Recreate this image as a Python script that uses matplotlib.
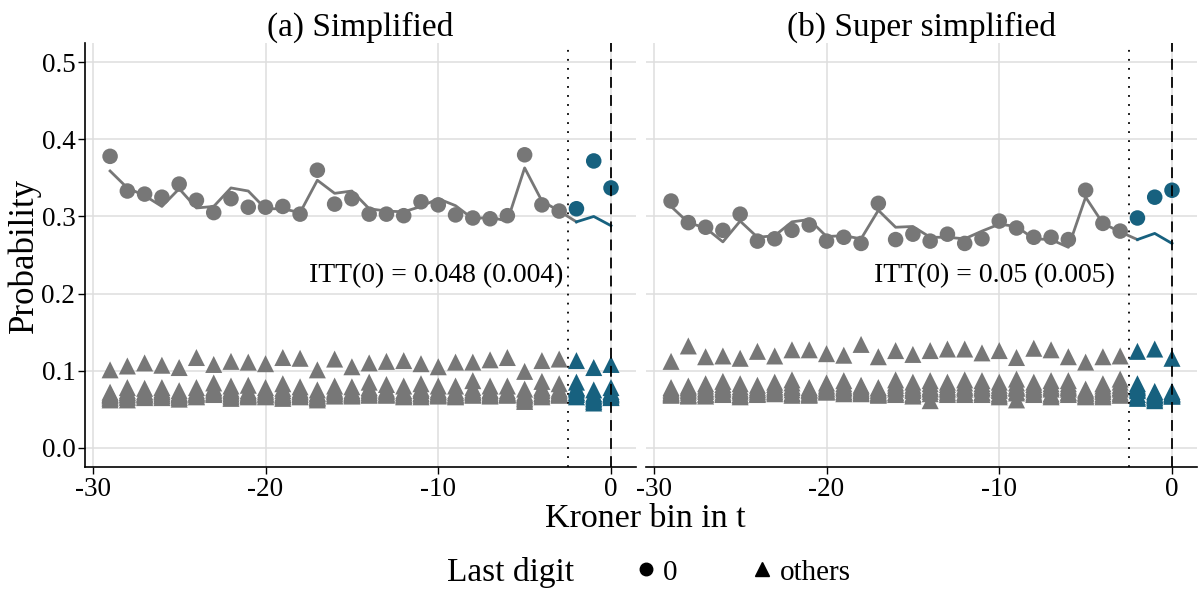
import numpy as np
import matplotlib
matplotlib.use("Agg")
import matplotlib.pyplot as plt
from matplotlib.lines import Line2D

plt.rcParams['font.family'] = ['Liberation Serif', 'DejaVu Serif']
plt.rcParams['axes.unicode_minus'] = False

# kroner bins, -29 .. 0
bins = list(range(-29, 1))
treat_from = -2  # bins from here on are coloured

titles = ["(a) Simplified", "(b) Super simplified"]
itt_labels = ["ITT(0) = 0.048 (0.004)", "ITT(0) = 0.05 (0.005)"]

# last digit 0: observed probability
zero_a = [0.378, 0.333, 0.329, 0.325, 0.342, 0.321, 0.305, 0.323, 0.312, 0.312,
          0.313, 0.303, 0.360, 0.316, 0.323, 0.303, 0.303, 0.301, 0.319, 0.315,
          0.302, 0.298, 0.297, 0.301, 0.380, 0.315, 0.307, 0.310, 0.372, 0.337]
zero_b = [0.320, 0.292, 0.286, 0.282, 0.303, 0.268, 0.271, 0.282, 0.289, 0.268,
          0.273, 0.265, 0.317, 0.270, 0.277, 0.268, 0.277, 0.265, 0.271, 0.294,
          0.285, 0.273, 0.273, 0.270, 0.334, 0.291, 0.281, 0.298, 0.325, 0.334]

# last digit 0: counterfactual (line)
fit_a = [0.359, 0.337, 0.327, 0.313, 0.336, 0.311, 0.313, 0.337, 0.333, 0.310,
         0.310, 0.305, 0.347, 0.330, 0.333, 0.310, 0.307, 0.306, 0.313, 0.323,
         0.314, 0.297, 0.299, 0.294, 0.363, 0.320, 0.307, 0.293, 0.300, 0.288]
fit_b = [0.313, 0.292, 0.285, 0.267, 0.294, 0.273, 0.275, 0.293, 0.296, 0.274,
         0.275, 0.271, 0.308, 0.286, 0.287, 0.273, 0.273, 0.271, 0.281, 0.290,
         0.287, 0.271, 0.270, 0.260, 0.325, 0.291, 0.280, 0.270, 0.278, 0.265]

# other last digits, panel (a)
a_d1 = [0.072, 0.078, 0.077, 0.078, 0.074, 0.078, 0.084, 0.080, 0.081, 0.078,
        0.083, 0.079, 0.075, 0.080, 0.079, 0.085, 0.082, 0.080, 0.083, 0.080,
        0.080, 0.087, 0.080, 0.080, 0.076, 0.086, 0.083, 0.085, 0.075, 0.078]
a_d2 = [0.068, 0.071, 0.070, 0.072, 0.069, 0.071, 0.074, 0.072, 0.070, 0.073,
        0.071, 0.072, 0.068, 0.073, 0.071, 0.074, 0.073, 0.071, 0.074, 0.072,
        0.071, 0.073, 0.072, 0.071, 0.068, 0.074, 0.072, 0.075, 0.066, 0.070]
a_d3 = [0.065, 0.067, 0.068, 0.068, 0.066, 0.069, 0.072, 0.068, 0.068, 0.069,
        0.068, 0.069, 0.065, 0.070, 0.069, 0.071, 0.070, 0.068, 0.070, 0.069,
        0.068, 0.071, 0.069, 0.070, 0.064, 0.070, 0.070, 0.071, 0.062, 0.068]
a_d4 = [0.070, 0.074, 0.073, 0.075, 0.071, 0.074, 0.078, 0.076, 0.074, 0.075,
        0.077, 0.075, 0.071, 0.076, 0.074, 0.078, 0.076, 0.074, 0.077, 0.075,
        0.074, 0.078, 0.075, 0.074, 0.071, 0.078, 0.076, 0.078, 0.070, 0.073]
a_d5 = [0.101, 0.106, 0.110, 0.107, 0.104, 0.117, 0.108, 0.112, 0.111, 0.109,
        0.117, 0.116, 0.101, 0.115, 0.105, 0.110, 0.112, 0.113, 0.109, 0.105,
        0.111, 0.111, 0.114, 0.117, 0.099, 0.113, 0.115, 0.113, 0.104, 0.108]
a_d6 = [0.067, 0.069, 0.069, 0.070, 0.068, 0.070, 0.071, 0.070, 0.069, 0.070,
        0.069, 0.070, 0.066, 0.071, 0.070, 0.072, 0.071, 0.069, 0.071, 0.070,
        0.069, 0.072, 0.070, 0.069, 0.066, 0.071, 0.071, 0.072, 0.064, 0.069]
a_d7 = [0.064, 0.065, 0.066, 0.067, 0.065, 0.067, 0.070, 0.066, 0.067, 0.067,
        0.066, 0.067, 0.064, 0.068, 0.068, 0.069, 0.069, 0.067, 0.068, 0.068,
        0.067, 0.069, 0.068, 0.069, 0.062, 0.068, 0.069, 0.069, 0.060, 0.066]
a_d8 = [0.069, 0.072, 0.071, 0.073, 0.070, 0.072, 0.076, 0.074, 0.072, 0.071,
        0.074, 0.073, 0.070, 0.074, 0.072, 0.076, 0.074, 0.072, 0.075, 0.073,
        0.072, 0.075, 0.074, 0.072, 0.069, 0.076, 0.074, 0.077, 0.068, 0.071]
a_d9 = [0.062, 0.062, 0.065, 0.065, 0.063, 0.066, 0.069, 0.064, 0.066, 0.066,
        0.064, 0.066, 0.062, 0.067, 0.067, 0.068, 0.068, 0.066, 0.066, 0.067,
        0.066, 0.068, 0.067, 0.068, 0.060, 0.066, 0.068, 0.066, 0.058, 0.065]

# other last digits, panel (b)
b_d1 = [0.078, 0.080, 0.083, 0.086, 0.083, 0.081, 0.085, 0.088, 0.078, 0.084,
        0.087, 0.081, 0.078, 0.088, 0.085, 0.087, 0.085, 0.088, 0.087, 0.085,
        0.089, 0.085, 0.087, 0.087, 0.076, 0.083, 0.089, 0.083, 0.073, 0.073]
b_d2 = [0.074, 0.076, 0.077, 0.079, 0.076, 0.076, 0.079, 0.080, 0.075, 0.079,
        0.080, 0.077, 0.074, 0.081, 0.078, 0.079, 0.079, 0.080, 0.080, 0.078,
        0.080, 0.079, 0.080, 0.080, 0.072, 0.077, 0.081, 0.078, 0.069, 0.070]
b_d3 = [0.071, 0.072, 0.073, 0.075, 0.072, 0.073, 0.075, 0.075, 0.072, 0.076,
        0.076, 0.074, 0.071, 0.076, 0.074, 0.076, 0.075, 0.076, 0.076, 0.074,
        0.077, 0.075, 0.076, 0.076, 0.070, 0.073, 0.076, 0.074, 0.067, 0.069]
b_d4 = [0.070, 0.069, 0.070, 0.072, 0.069, 0.071, 0.073, 0.071, 0.070, 0.074,
        0.073, 0.072, 0.070, 0.072, 0.070, 0.073, 0.072, 0.072, 0.072, 0.070,
        0.073, 0.072, 0.070, 0.072, 0.068, 0.070, 0.072, 0.069, 0.065, 0.068]
b_d5 = [0.112, 0.132, 0.118, 0.119, 0.116, 0.125, 0.119, 0.127, 0.127, 0.122,
        0.120, 0.134, 0.118, 0.126, 0.121, 0.126, 0.128, 0.128, 0.123, 0.126,
        0.117, 0.129, 0.127, 0.118, 0.111, 0.118, 0.119, 0.125, 0.128, 0.116]
b_d6 = [0.076, 0.078, 0.080, 0.082, 0.079, 0.078, 0.082, 0.084, 0.076, 0.081,
        0.083, 0.079, 0.076, 0.084, 0.081, 0.083, 0.082, 0.084, 0.083, 0.081,
        0.084, 0.082, 0.083, 0.083, 0.074, 0.080, 0.085, 0.080, 0.071, 0.071]
b_d7 = [0.072, 0.074, 0.075, 0.077, 0.074, 0.075, 0.077, 0.078, 0.074, 0.077,
        0.078, 0.075, 0.072, 0.078, 0.076, 0.077, 0.077, 0.078, 0.078, 0.076,
        0.078, 0.077, 0.078, 0.078, 0.071, 0.075, 0.078, 0.076, 0.068, 0.070]
b_d8 = [0.069, 0.068, 0.069, 0.070, 0.068, 0.070, 0.072, 0.070, 0.069, 0.073,
        0.072, 0.071, 0.069, 0.071, 0.069, 0.070, 0.071, 0.071, 0.071, 0.068,
        0.071, 0.070, 0.068, 0.071, 0.067, 0.068, 0.070, 0.066, 0.063, 0.067]
b_d9 = [0.068, 0.067, 0.067, 0.069, 0.066, 0.069, 0.070, 0.068, 0.068, 0.072,
        0.070, 0.070, 0.068, 0.069, 0.067, 0.061, 0.069, 0.069, 0.069, 0.066,
        0.062, 0.069, 0.066, 0.069, 0.066, 0.066, 0.068, 0.064, 0.061, 0.067]

GRAY = '#777777'
BLUE = '#17617f'
GRID = '#dedede'

panels = [
    (zero_a, fit_a, [a_d1, a_d2, a_d3, a_d4, a_d5, a_d6, a_d7, a_d8, a_d9]),
    (zero_b, fit_b, [b_d1, b_d2, b_d3, b_d4, b_d5, b_d6, b_d7, b_d8, b_d9]),
]

fig = plt.figure(figsize=(12.01, 5.90), dpi=100)
ax_a = fig.add_axes([0.0708, 0.2085, 0.4588, 0.7186])
ax_b = fig.add_axes([0.5379, 0.2085, 0.4588, 0.7186])

x = np.array(bins)
post = x >= treat_from
pre_line = x <= treat_from

for i, (ax, (zero, fit, others)) in enumerate(zip([ax_a, ax_b], panels)):
    zero = np.array(zero)
    fit = np.array(fit)
    cols = np.where(post, BLUE, GRAY)

    ax.plot(x[pre_line], fit[pre_line], color=GRAY, lw=2.0, zorder=2)
    ax.plot(x[post], fit[post], color=BLUE, lw=2.0, zorder=2)

    for d in others:
        ax.scatter(x, d, marker='^', s=150, c=cols, linewidths=0, zorder=3)
    ax.scatter(x, zero, marker='o', s=125, c=cols, linewidths=0, zorder=4)

    ax.axvline(-2.5, color='black', lw=1.3, ls=(0, (1, 4)), zorder=5)
    ax.axvline(0, color='black', lw=1.3, ls=(0, (6, 4)), zorder=5)

    ax.text(-2.75 if i == 0 else -3.3, 0.223, itt_labels[i], ha='right', va='center',
            fontsize=20)

    ax.set_xlim(-30.45, 1.45)
    ax.set_ylim(-0.025, 0.525)
    ax.set_xticks([-30, -20, -10, 0])
    ax.set_xticklabels(['-30', '-20', '-10', '0'])
    ax.set_yticks([0.0, 0.1, 0.2, 0.3, 0.4, 0.5])
    ax.grid(True, color=GRID, lw=1.1, zorder=0)
    ax.set_axisbelow(True)
    for s in ['top', 'right']:
        ax.spines[s].set_visible(False)
    ax.spines['bottom'].set_linewidth(1.2)
    ax.spines['left'].set_linewidth(1.2)
    ax.tick_params(labelsize=19.5, length=5, width=1, pad=2)
    ax.set_title(titles[i], fontsize=24, pad=4)

ax_a.set_yticklabels(['0.0', '0.1', '0.2', '0.3', '0.4', '0.5'])
ax_a.set_ylabel('Probability', fontsize=25, labelpad=0)
ax_b.spines['left'].set_visible(False)
ax_b.tick_params(axis='y', left=False, labelleft=False)

fig.text(0.537, 0.121, 'Kroner bin in t', ha='center', va='center', fontsize=24.5)

# legend
fig.text(0.372, 0.030, 'Last digit', ha='left', va='center', fontsize=24)
handles = [
    Line2D([], [], marker='o', color='black', ls='', markersize=9),
    Line2D([], [], marker='^', color='black', ls='', markersize=10),
]
fig.legend(handles, ['0', 'others'], loc='center', bbox_to_anchor=(0.617, 0.030),
           ncol=2, frameon=False, fontsize=21, handletextpad=0.1,
           columnspacing=2.4, handlelength=1.0)

fig.savefig('out.png', dpi=100)
